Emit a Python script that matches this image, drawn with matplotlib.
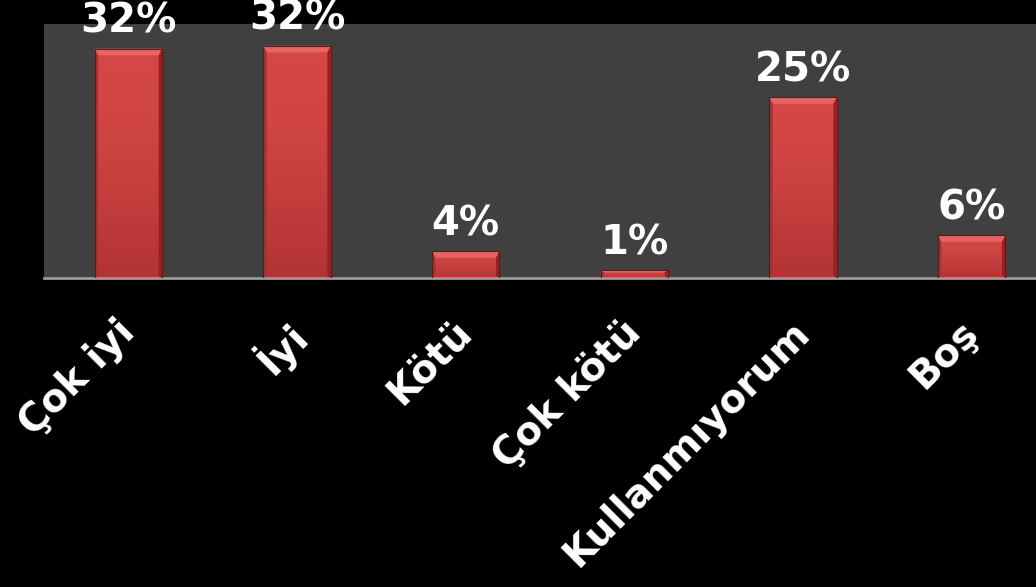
import matplotlib
matplotlib.use("Agg")
import matplotlib.pyplot as plt
import numpy as np
from matplotlib.colors import LinearSegmentedColormap
from matplotlib.transforms import ScaledTranslation

categories = ["Çok iyi", "İyi", "Kötü", "Çok kötü", "Kullanmıyorum", "Boş"]
values = [31.6, 32.0, 3.7, 1.1, 24.9, 5.9]
value_labels = ["32%", "32%", "4%", "1%", "25%", "6%"]

W, H = 1036, 587
fig = plt.figure(figsize=(W / 100, H / 100), dpi=100, facecolor="black")
ax = fig.add_axes([44 / W, (H - 278) / H, 1012 / W, (278 - 24) / H])
ax.set_facecolor("#404040")

x = np.arange(len(categories))
bars = ax.bar(x, values, width=0.4, color="#C94040", edgecolor="#6a1515",
              linewidth=0.8, zorder=2)

cmap = LinearSegmentedColormap.from_list(
    "redgrad", ["#B33434", "#C33D3D", "#D04444", "#D64848"])
for b in bars:
    x0, y0 = b.get_x(), b.get_y()
    w, h = b.get_width(), b.get_height()
    grad = np.linspace(0, 1, 64).reshape(-1, 1)
    im = ax.imshow(grad, extent=[x0, x0 + w, y0, y0 + h], origin="lower",
                   cmap=cmap, aspect="auto", zorder=2.5)
    im.set_clip_path(b)
    bev = min(0.9, h * 0.3)
    ax.fill([x0, x0 + w, x0 + w - 0.02, x0 + 0.02],
            [y0 + h, y0 + h, y0 + h - bev, y0 + h - bev],
            color="#E86464", zorder=2.6, lw=0)
    ax.fill([x0, x0 + 0.02, x0 + 0.02, x0],
            [y0, y0 + 0.3, y0 + h - bev, y0 + h],
            color="#A83030", zorder=2.6, lw=0)
    ax.fill([x0 + w, x0 + w - 0.02, x0 + w - 0.02, x0 + w],
            [y0, y0 + 0.3, y0 + h - bev, y0 + h],
            color="#8E2525", zorder=2.6, lw=0)
    ax.plot([x0, x0, x0 + w, x0 + w], [y0, y0 + h, y0 + h, y0],
            color="#6a1515", lw=0.8, zorder=2.7)

for xi, v, lab in zip(x, values, value_labels):
    ax.annotate(lab, (xi, v), xytext=(0, 5), textcoords="offset points",
                ha="center", va="bottom", color="white", fontsize=29,
                fontweight="bold", family="DejaVu Sans", zorder=5,
                annotation_clip=False)

ax.set_xlim(-0.5, 5.5)
ax.set_ylim(0, 35)
ax.set_yticks([])
ax.set_xticks(x)
ax.set_xticklabels(categories, rotation=45, ha="right", rotation_mode="anchor",
                   color="white", fontsize=28, fontweight="bold",
                   family="DejaVu Sans")
ax.tick_params(axis="x", length=0, pad=10)
shift = ScaledTranslation(-13 / 100, -21 / 100, fig.dpi_scale_trans)
for lbl in ax.get_xticklabels():
    lbl.set_transform(lbl.get_transform() + shift)
for s in ["top", "right", "left"]:
    ax.spines[s].set_visible(False)
ax.spines["bottom"].set_color("#9a9a9a")
ax.spines["bottom"].set_linewidth(2)

fig.savefig("out.png", dpi=100, facecolor="black")
